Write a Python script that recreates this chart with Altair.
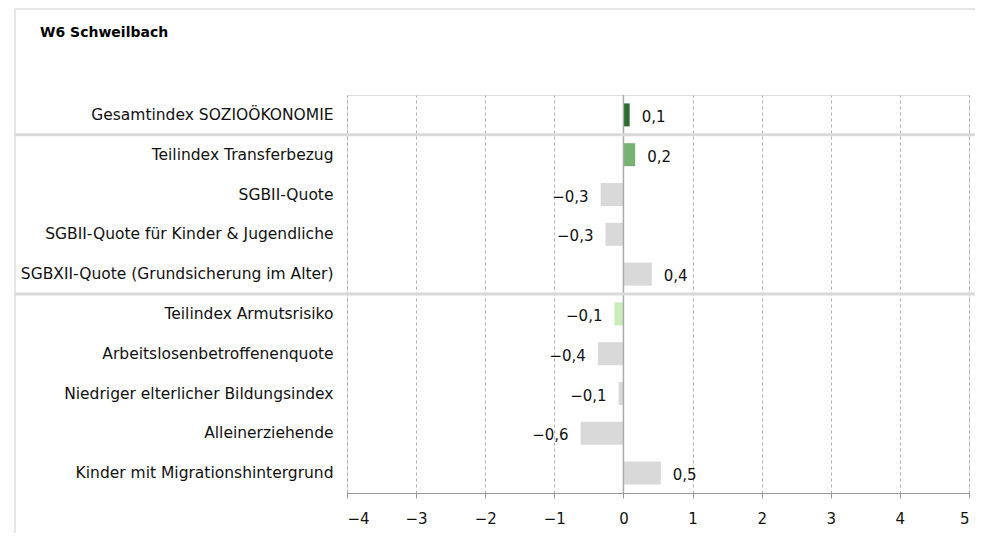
import altair as alt
import pandas as pd

categories = [
    "Gesamtindex SOZIOÖKONOMIE",
    "Teilindex Transferbezug",
    "SGBII-Quote",
    "SGBII-Quote für Kinder & Jugendliche",
    "SGBXII-Quote (Grundsicherung im Alter)",
    "Teilindex Armutsrisiko",
    "Arbeitslosenbetroffenenquote",
    "Niedriger elterlicher Bildungsindex",
    "Alleinerziehende",
    "Kinder mit Migrationshintergrund",
]
values = [0.09, 0.17, -0.33, -0.26, 0.41, -0.13, -0.37, -0.07, -0.62, 0.54]
groups = ["gesamt", "transfer", "sub", "sub", "sub", "armut", "sub", "sub", "sub", "sub"]
group_domain = ["gesamt", "transfer", "armut", "sub"]
group_colors = ["#2a6b30", "#78b272", "#c9ecb8", "#d9d9d9"]
x_ticks = [-4, -3, -2, -1, 0, 1, 2, 3, 4, 5]
separator_rows = ["Teilindex Transferbezug", "Teilindex Armutsrisiko"]
title_text = "W6 Schweilbach"

FONT = "DejaVu Sans"
W, H = 622, 398

df = pd.DataFrame({"cat": categories, "v": values, "g": groups})
df["label"] = [("%.1f" % v).replace(".", ",").replace("-", "\u2212") for v in values]

yenc = alt.Y("cat:N", sort=categories, scale=alt.Scale(paddingInner=0, paddingOuter=0),
             axis=alt.Axis(title=None, domain=False, ticks=False, labelFont=FONT,
                           labelFontSize=15.5, labelColor="#111", labelPadding=14,
                           labelLimit=400))
xscale = alt.Scale(domain=[-4, 5], nice=False)

base = alt.Chart(df)

bars = base.mark_bar(size=23).encode(
    x=alt.X("v:Q", scale=xscale,
            axis=alt.Axis(title=None, values=x_ticks, format="d", grid=True,
                          gridDash=[3, 3], gridColor="#b0b0b0", domainColor="#999999",
                          tickColor="#999999", tickSize=5, labelFont=FONT,
                          labelFontSize=15, labelColor="#111", labelPadding=13)),
    x2=alt.datum(0),
    y=yenc,
    color=alt.Color("g:N", scale=alt.Scale(domain=group_domain, range=group_colors), legend=None),
)

zero = alt.Chart(pd.DataFrame({"z": [0]})).mark_rule(color="#aaaaaa", strokeWidth=1.5).encode(
    x=alt.X("z:Q", scale=xscale))

pos_lbl = base.transform_filter("datum.v >= 0").mark_text(
    align="left", baseline="middle", dx=12, dy=2, font=FONT, fontSize=15, color="#111").encode(
    x=alt.X("v:Q", scale=xscale), y=alt.Y("cat:N", sort=categories), text="label:N")
neg_lbl = base.transform_filter("datum.v < 0").mark_text(
    align="right", baseline="middle", dx=-12, dy=2, font=FONT, fontSize=15, color="#111").encode(
    x=alt.X("v:Q", scale=xscale), y=alt.Y("cat:N", sort=categories), text="label:N")

seps = alt.Chart(pd.DataFrame({"cat": separator_rows})).mark_rule(
    color="#d9d9d9", strokeWidth=3, clip=False).encode(
    y=alt.Y("cat:N", sort=categories, bandPosition=0),
    x=alt.value(-332), x2=alt.value(W + 20))

frame_l = alt.Chart(pd.DataFrame({"a": [0]})).mark_rule(color="#e6e6e6", strokeWidth=2, clip=False).encode(
    x=alt.value(-332), y=alt.value(-86), y2=alt.value(H + 60))
frame_t = alt.Chart(pd.DataFrame({"a": [0]})).mark_rule(color="#e6e6e6", strokeWidth=2, clip=False).encode(
    x=alt.value(-332), x2=alt.value(W + 20), y=alt.value(-86))

title = alt.Chart(pd.DataFrame({"t": [title_text]})).mark_text(
    align="left", baseline="middle", font=FONT, fontSize=14, fontWeight="bold", color="#000").encode(
    x=alt.value(-307), y=alt.value(-62), text="t:N")

chart = alt.layer(frame_l, frame_t, bars, zero, seps, pos_lbl, neg_lbl, title).properties(
    width=W, height=H,
    autosize=alt.AutoSizeParams(type="none"),
    padding={"left": 339, "top": 87, "right": 6, "bottom": 40},
).configure_view(stroke=None).configure(background="white")

chart.save("out.html", embed_options={"renderer": "svg", "actions": False})
